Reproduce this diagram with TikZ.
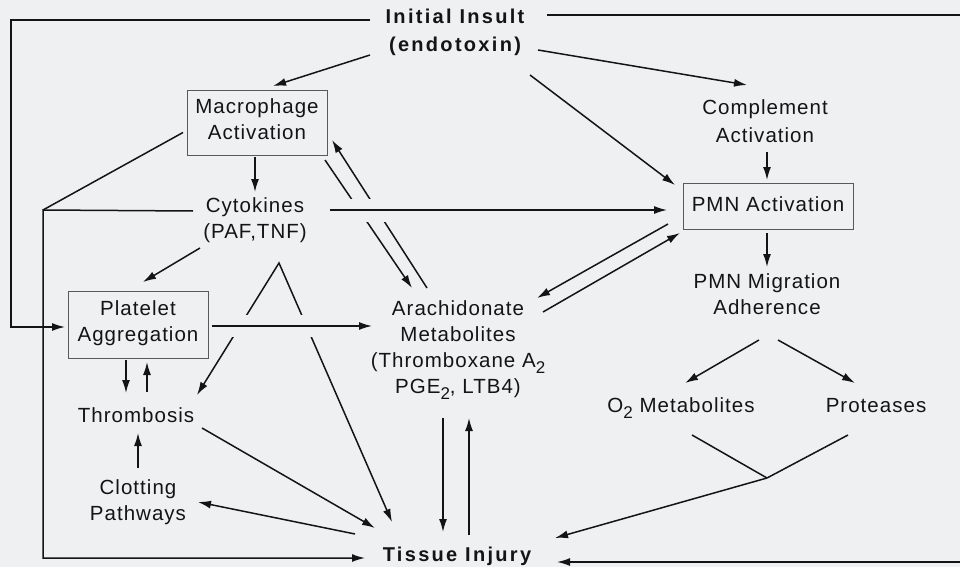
\documentclass[tikz,border=0pt]{standalone}
\usepackage{fontspec}
\setmainfont{Liberation Sans}[LetterSpace=5]
\newfontfamily\boldsp{Liberation Sans}[LetterSpace=11.5]
\usetikzlibrary{arrows.meta,calc}
\definecolor{bg}{RGB}{238,240,242}
\definecolor{ink}{RGB}{20,20,20}
\newcommand{\lowsub}[1]{\raisebox{-6pt}{\fontsize{17}{17}\selectfont #1}}
\begin{document}
\begin{tikzpicture}[x=1pt,y=-1pt,
  lbl/.style={align=center, inner sep=0pt, text=ink, font=\fontsize{20.5}{26}\selectfont,
    execute at begin node=\strut, execute at end node=\strut},
  hdr/.style={lbl, font=\boldsp\bfseries\fontsize{20}{28}\selectfont},
  box/.style={lbl, draw=gray!70!black, line width=0.8pt},
  con/.style={draw=ink, line width=1.5pt},
  arr/.style={con, -{Latex[length=13pt,width=8pt]}},
  both/.style={con, {Latex[length=13pt,width=8pt]}-{Latex[length=13pt,width=8pt]}},
  halo/.style={draw=bg, line width=23pt}]
\fill[bg] (0,0) rectangle (960,567);
\useasboundingbox (0,0) rectangle (960,567);

% ---------- nodes ----------
\node[hdr] (ins) at (455,34) {Initial Insult\\(endotoxin)};
\node[box, minimum width=140pt, minimum height=65pt] (mac) at (257,122.5) {Macrophage\\Activation};
\node[lbl] (cyt) at (255,222) {Cytokines\\(PAF,TNF)};
\node[box, minimum width=140pt, minimum height=67pt] (plt) at (138,324.5) {Platelet\\Aggregation};
\node[lbl] (thr) at (136,417) {Thrombosis};
\node[lbl] (clt) at (138,504) {Clotting\\Pathways};
\node[lbl] (ara) at (458,350.5) {Arachidonate\\Metabolites\\(Thromboxane A\lowsub{2}\\PGE\lowsub{2}, LTB4)};
\node[hdr] (tis) at (457,556) {Tissue Injury};
\node[lbl, font=\fontsize{20.5}{27.5}\selectfont] (com) at (765,125) {Complement\\Activation};
\node[box, minimum width=170pt, minimum height=46pt] (pmn) at (768,206) {PMN Activation};
\node[lbl] (mig) at (767,298) {PMN Migration\\Adherence};
\node[lbl] (o2) at (681,407) {O\lowsub{2} Metabolites};
\node[lbl] (pro) at (876,407) {Proteases};

\coordinate (apex) at ($(cyt)+(24,41)$);
\coordinate (jn) at (43,210);
\coordinate (jn2) at (767,478);
\coordinate (rt) at (960,15);
\coordinate (rb) at (960,562);

% ---------- lines that are crossed (drawn first) ----------
\draw[arr] ($(mac)+(68,37.5)$) -- ($(ara)+(-46,-62.5)$);
\draw[arr] ($(ara)+(-31,-62.5)$) -- ($(mac)+(75,17.5)$);
\draw[both] ($(thr)+(61,-22)$) -- (apex) -- ($(tis)+(-65,-34)$);

% gaps where lines cross
\draw[halo] ($($(cyt)+(75,-12)$)!0.03!($(pmn)+(-101,4)$)$) -- ($($(cyt)+(75,-12)$)!0.2!($(pmn)+(-101,4)$)$);
\draw[halo, line width=22pt] ($($(plt)+(74,1.5)$)!0.08!($(ara)+(-86,-24.5)$)$) -- ($($(plt)+(74,1.5)$)!0.68!($(ara)+(-86,-24.5)$)$);

% ---------- Initial Insult ----------
\draw[arr] ($(ins)+(-85,-14)$) -| ($(plt)+(-127,2.5)$) -- ($(plt)+(-73,2.5)$);
\draw[con] ($(ins)+(92,-19)$) -- (rt);
\draw[arr] ($(ins)+(-85,21)$) -- ($(mac)+(16,-36.5)$);
\draw[arr] ($(ins)+(83,16)$) -- ($(com)+(-18,-40)$);
\draw[arr] ($(ins)+(75,41)$) -- ($(pmn)+(-93,-21)$);

% ---------- Macrophage / Cytokines ----------
\draw[arr] ($(mac)+(-2,34.5)$) -- ($(cyt)+(0,-30)$);
\draw[con] ($(mac)+(-74,10)$) -- (jn);
\draw[arr] ($(cyt)+(-62,-11)$) -- (jn) |- ($(tis)+(-92,2)$);
\draw[arr] ($(cyt)+(75,-12)$) -- ($(pmn)+(-101,4)$);
\draw[arr] ($(cyt)+(-55,26)$) -- ($(plt)+(5,-42.5)$);

% ---------- Platelet / Thrombosis / Clotting ----------
\draw[arr] ($(plt)+(74,1.5)$) -- ($(ara)+(-86,-24.5)$);
\draw[arr] ($(plt)+(-12,35.5)$) -- ($(thr)+(-10,-24)$);
\draw[arr] ($(thr)+(11,-25)$) -- ($(plt)+(9,37.5)$);
\draw[arr] ($(clt)+(0,-36)$) -- ($(thr)+(2,16)$);
\draw[arr] ($(thr)+(66,11)$) -- ($(tis)+(-82,-28)$);
\draw[arr] ($(tis)+(-102,-22)$) -- ($(clt)+(60,-2)$);

% ---------- Arachidonate ----------
\draw[arr] ($(ara)+(-15,67.5)$) -- ($(tis)+(-14,-24)$);
\draw[arr] ($(tis)+(12,-21)$) -- ($(ara)+(11,67.5)$);
\draw[arr] ($(pmn)+(-100,18)$) -- ($(ara)+(79,-52.5)$);
\draw[arr] ($(ara)+(85,-38.5)$) -- ($(pmn)+(-88,27)$);

% ---------- PMN branch ----------
\draw[arr] ($(com)+(2,27)$) -- ($(pmn)+(-1,-26)$);
\draw[arr] ($(pmn)+(-1,27)$) -- ($(mig)+(0,-31)$);
\draw[arr] ($(mig)+(-8,42)$) -- ($(o2)+(4,-24)$);
\draw[arr] ($(mig)+(11,42)$) -- ($(pro)+(-21,-24)$);
\draw[con] ($(o2)+(11,28)$) -- (jn2);
\draw[con] ($(pro)+(-28,28)$) -- (jn2);
\draw[arr] (jn2) -- ($(tis)+(98,-18)$);
\draw[arr] (rb) -- ($(tis)+(100,6)$);
\end{tikzpicture}
\end{document}
